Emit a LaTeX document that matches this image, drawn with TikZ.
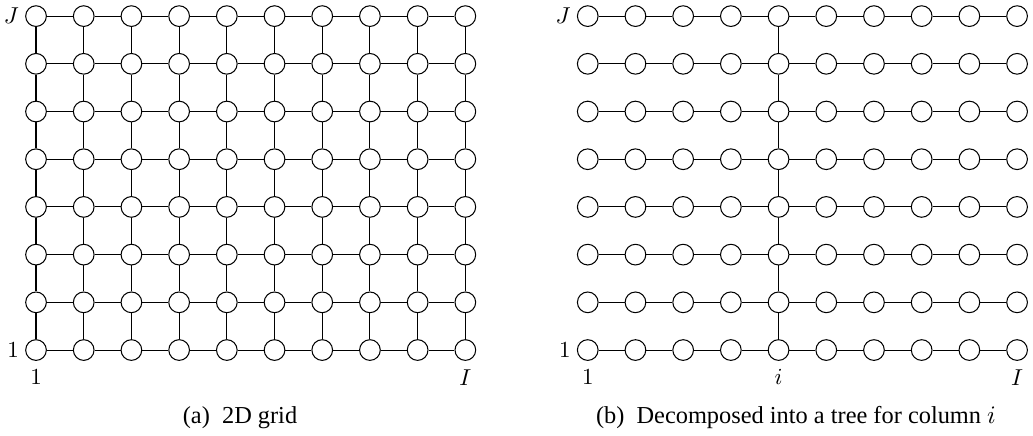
\documentclass[tikz,border=0pt]{standalone}
\usepackage{fontspec}
\setmainfont{Liberation Serif}
\usetikzlibrary{positioning}

\tikzset{
  site/.style={circle, draw, line width=0.45pt, minimum size=9pt, inner sep=0pt},
  link/.style={line width=0.45pt},
  tag/.style={inner sep=2.5pt},
  caption/.style={anchor=base, font=\fontsize{10.6}{12}\selectfont},
}

\begin{document}
\begin{tikzpicture}[x=20.75pt,y=20.75pt]
\useasboundingbox (-0.755,-1.782) rectangle (20.90,7.338);

% (a) full grid
\foreach \i in {1,...,10}
  \foreach \j in {1,...,8}
    \node[site] (a-\i-\j) at (\i-1,\j-1) {};
\foreach \i in {1,...,10}
  \foreach \j [count=\k from 2] in {1,...,7}
    \draw[link] (a-\i-\j) -- (a-\i-\k);
\foreach \j in {1,...,8}
  \foreach \i [count=\k from 2] in {1,...,9}
    \draw[link] (a-\i-\j) -- (a-\k-\j);

\node[tag, left=0pt of a-1-8] (aJ) {$J$};
\node[tag, left=0pt of a-1-1] (a1) {$1$};
\node[tag, below=1pt of a-1-1] (a1b) {$1$};
\node[tag, below=1pt of a-10-1] (aI) {$I$};
\node[caption] (capa) at (4.277,-1.53) {(a)\enspace 2D grid};

% (b) rows cut apart, joined by column i only
\foreach \i in {1,...,10}
  \foreach \j in {1,...,8}
    \node[site] (b-\i-\j) at (\i+10.566,\j-1) {};
\foreach \j in {1,...,8}
  \foreach \i [count=\k from 2] in {1,...,9}
    \draw[link] (b-\i-\j) -- (b-\k-\j);
\foreach \j [count=\k from 2] in {1,...,7}
  \draw[link] (b-5-\j) -- (b-5-\k);

\node[tag, left=0pt of b-1-8] (bJ) {$J$};
\node[tag, left=0pt of b-1-1] (b1) {$1$};
\node[tag, below=1pt of b-1-1] (b1b) {$1$};
\node[tag, below=1pt of b-5-1] (bi) {$i$};
\node[tag, below=1pt of b-10-1] (bI) {$I$};
\node[caption] (capb) at (15.93,-1.53) {(b)\enspace Decomposed into a tree for column $i$};

\end{tikzpicture}
\end{document}
